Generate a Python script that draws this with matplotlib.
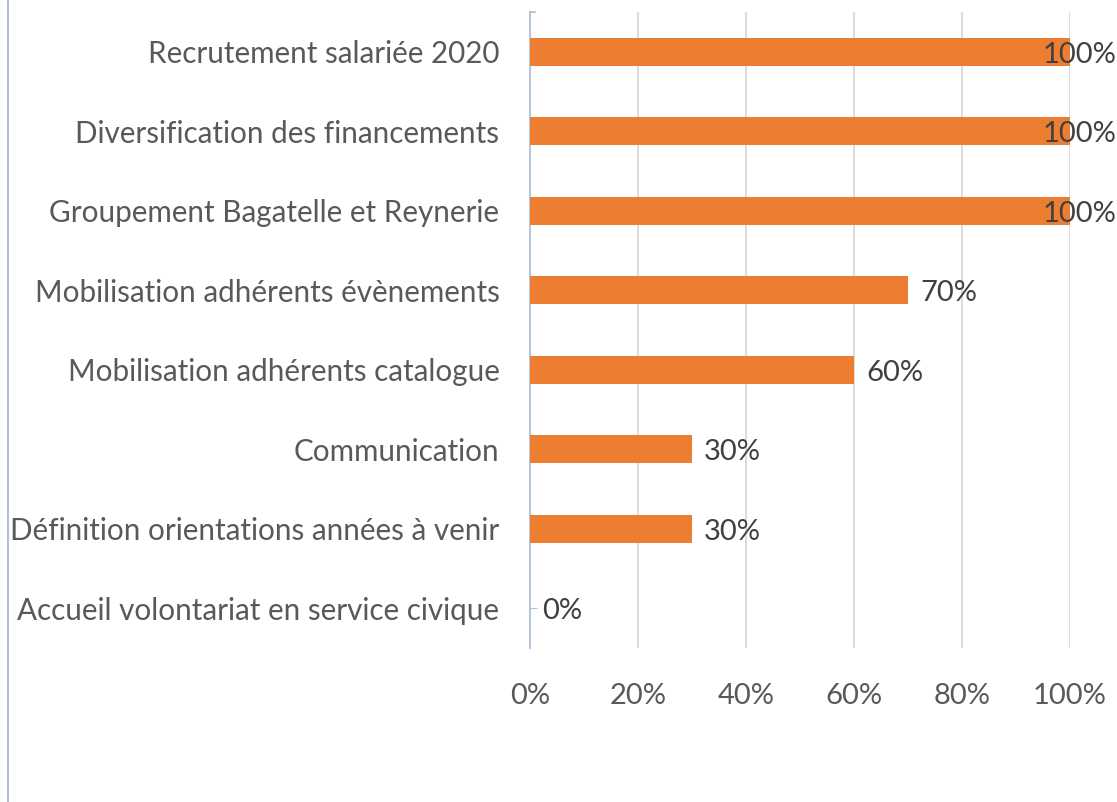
import matplotlib
matplotlib.use("Agg")
import matplotlib.pyplot as plt
from matplotlib.lines import Line2D

# Data (bottom to top as drawn by barh)
categories = [
    "Accueil volontariat en service civique",
    "Définition orientations années à venir",
    "Communication",
    "Mobilisation adhérents catalogue",
    "Mobilisation adhérents évènements",
    "Groupement Bagatelle et Reynerie",
    "Diversification des financements",
    "Recrutement salariée 2020",
]
values = [0, 30, 30, 60, 70, 100, 100, 100]
xticks = [0, 20, 40, 60, 80, 100]

plt.rcParams['font.family'] = ['Lato', 'DejaVu Sans']

fig = plt.figure(figsize=(11.17, 8.02), dpi=100)
ax = fig.add_axes([530 / 1117, 1 - 648 / 802, 540 / 1117, 636 / 802])

y = range(len(categories))
ax.barh(y, values, height=0.35, color='#ED7D31', zorder=3)

ax.set_xlim(0, 100)
ax.set_ylim(-0.5, len(categories) - 0.5)
ax.set_xticks(xticks)
ax.set_xticklabels([f"{t}%" for t in xticks])
ax.set_yticks(list(y))
ax.set_yticklabels(categories)

ax.grid(axis='x', color='#D9D9D9', linewidth=1.3, zorder=0)
for s in ['top', 'right', 'bottom']:
    ax.spines[s].set_visible(False)
ax.spines['left'].set_color('#B4C0D8')
ax.spines['left'].set_linewidth(1.3)

ax.tick_params(axis='x', length=0, pad=25, labelsize=21, labelcolor='#595959')
ax.tick_params(axis='y', direction='in', length=5, color='#B4C0D8',
               pad=22, labelsize=21.3, labelcolor='#595959')

# small tick at the top of the category axis
ax.plot([0, 1], [len(categories) - 0.5] * 2, color='#B4C0D8', linewidth=1.3,
        transform=ax.get_yaxis_transform(), clip_on=False)
ax.lines[-1].set_xdata([0, 0.01])

# data labels
for yi, v in zip(y, values):
    dx = -27 if v >= 100 else 12
    ax.annotate(f"{v}%", (v, yi), xytext=(dx, -3), textcoords='offset pixels',
                va='center', ha='left', fontsize=21, color='#404040', zorder=4)

# chart border on the left
fig.add_artist(Line2D([8 / 1117, 8 / 1117], [0, 1], color='#B4C0D8', linewidth=1.5))

fig.savefig("out.png", dpi=100)
